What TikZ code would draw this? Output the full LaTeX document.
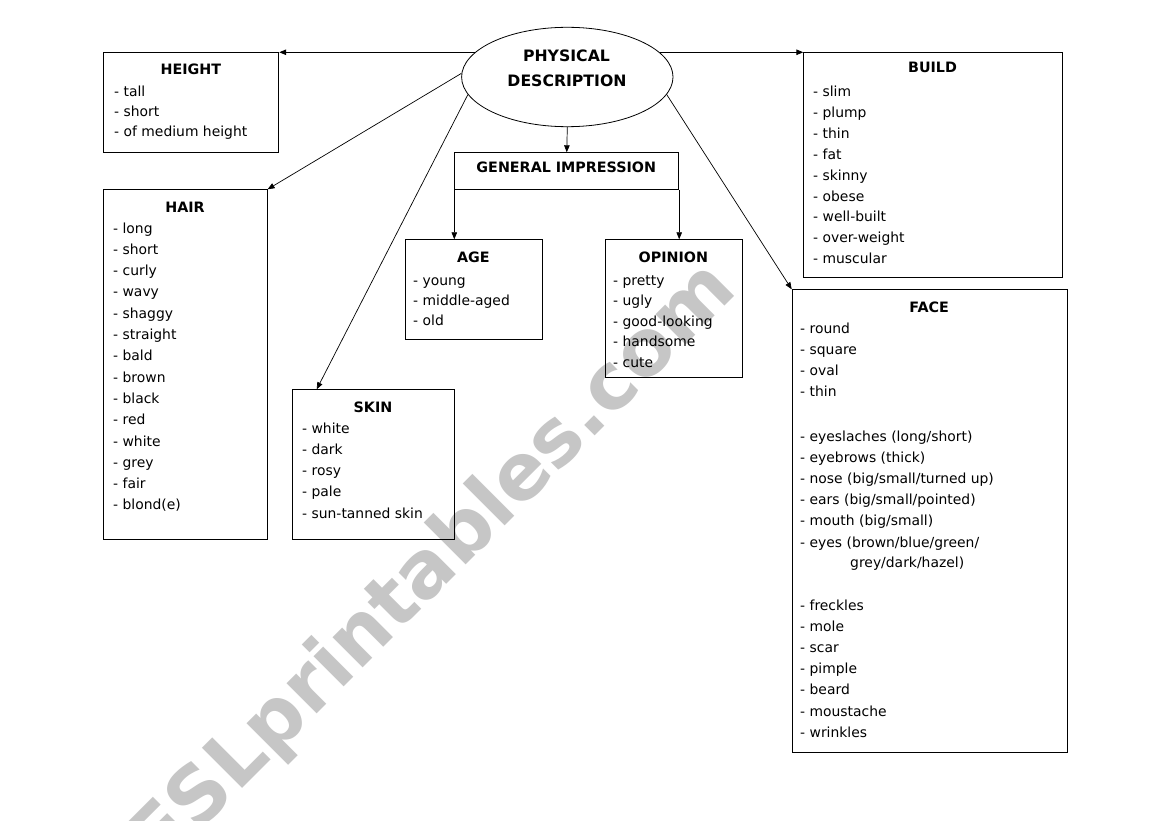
\documentclass[tikz,border=0pt]{standalone}
\usepackage{fontspec}
\setmainfont{DejaVu Sans}
\usetikzlibrary{shapes.geometric,arrows.meta,calc}
\definecolor{wmgray}{RGB}{198,198,198}
\newcommand{\lst}[5]{%
  \foreach \t [count=\i from 0] in {#5} {\node[itm] (#1-\i) at (#2,#3+\i*#4) {- \t};}}
\begin{document}
\begin{tikzpicture}[x=1pt,y=-1pt,
  box/.style={draw=black, line width=0.9pt, inner sep=0pt, anchor=north west},
  head/.style={font=\bfseries\fontsize{14.3}{16}\selectfont, anchor=base, inner sep=0pt},
  ttl/.style={font=\bfseries\fontsize{15.7}{18}\selectfont, anchor=base, inner sep=0pt},
  itm/.style={font=\fontsize{13.9}{16}\selectfont, anchor=base west, inner sep=0pt},
  conn/.style={line width=0.7pt, -{Triangle[length=7pt,width=5.5pt]}},
  wm/.style={font=\bfseries\fontsize{78}{78}\selectfont, text=wmgray, inner sep=0pt}]
\useasboundingbox (0,0) rectangle (1169,821);
\fill[white] (0,0) rectangle (1169,821);
% watermark
\node[wm, rotate=45, anchor=base west] (wmark) at (160,871) {ESLprintables.com};
% central ellipse
\node[ellipse, draw, line width=0.8pt, minimum width=211.4pt, minimum height=99.4pt, inner sep=0pt] (pd) at (567.3,77) {};
\node[ttl] (pd-t1) at (566.5,61.7) {PHYSICAL};
\node[ttl] (pd-t2) at (567,86.7) {DESCRIPTION};
% boxes
\node[box, minimum width=175pt, minimum height=99.2pt] (height) at (103.3,52.5) {};
\node[box, minimum width=163.4pt, minimum height=350pt] (hair) at (103.3,189.3) {};
\node[box, minimum width=162.6pt, minimum height=150pt] (skin) at (291.7,389.3) {};
\node[box, minimum width=224pt, minimum height=37pt] (gi) at (454.3,152.3) {};
\node[box, minimum width=136.7pt, minimum height=100pt] (age) at (405,239.3) {};
\node[box, minimum width=136.7pt, minimum height=138pt] (opinion) at (605,239.3) {};
\node[box, minimum width=258.4pt, minimum height=225pt] (build) at (803.3,52.3) {};
\node[box, minimum width=275pt, minimum height=463pt] (face) at (791.7,289.3) {};
% headings
\node[head] (height-h) at (190.8,75) {HEIGHT};
\node[head] (hair-h) at (185,212) {HAIR};
\node[head] (skin-h) at (373,412) {SKIN};
\node[head] (gi-h) at (566.3,173) {GENERAL IMPRESSION};
\node[head] (age-h) at (473.3,262) {AGE};
\node[head] (opinion-h) at (673.3,262) {OPINION};
\node[head] (build-h) at (932.5,73) {BUILD};
\node[head] (face-h) at (929.2,312) {FACE};
% lists
\lst{height}{114}{97}{20}{tall,short,of medium height}
\lst{hair}{113}{233}{21.3}{long,short,curly,wavy,shaggy,straight,bald,brown,black,red,white,grey,fair,blond(e)}
\lst{skin}{302}{433}{21.25}{white,dark,rosy,pale,sun-tanned skin}
\lst{age}{413}{285}{20}{young,middle-aged,old}
\lst{opinion}{613}{285}{20.5}{pretty,ugly,good-looking,handsome,cute}
\lst{build}{813}{97}{20.8}{slim,plump,thin,fat,skinny,obese,well-built,over-weight,muscular}
\lst{facea}{800}{333}{21.3}{round,square,oval,thin}
\lst{faceb}{800}{441.5}{21.1}{{eyeslaches (long/short)},{eyebrows (thick)},{nose (big/small/turned up)},{ears (big/small/pointed)},{mouth (big/small)},{eyes (brown/blue/green/}}
\node[itm] (faceb-cont) at (850,567) {grey/dark/hazel)};
\lst{facec}{800}{610}{21.2}{freckles,mole,scar,pimple,beard,moustache,wrinkles}
% connectors
\draw[conn, line width=0.9pt] (pd.165) -- (pd.165 -| height.east);
\draw[conn, line width=0.9pt] (pd.15) -- (pd.15 -| build.west);
\draw[conn] (pd.178) -- (hair.north east);
\draw[conn] (pd.190) -- ($(skin.north west)+(25,0)$);
\draw[conn] (pd.350) -- (face.north west);
\draw[conn] (pd.south) -- (gi.north);
\draw[conn] (gi.south west) -- (gi.south west |- age.north);
\draw[conn] (gi.south east) -- (gi.south east |- opinion.north);
\end{tikzpicture}
\end{document}
